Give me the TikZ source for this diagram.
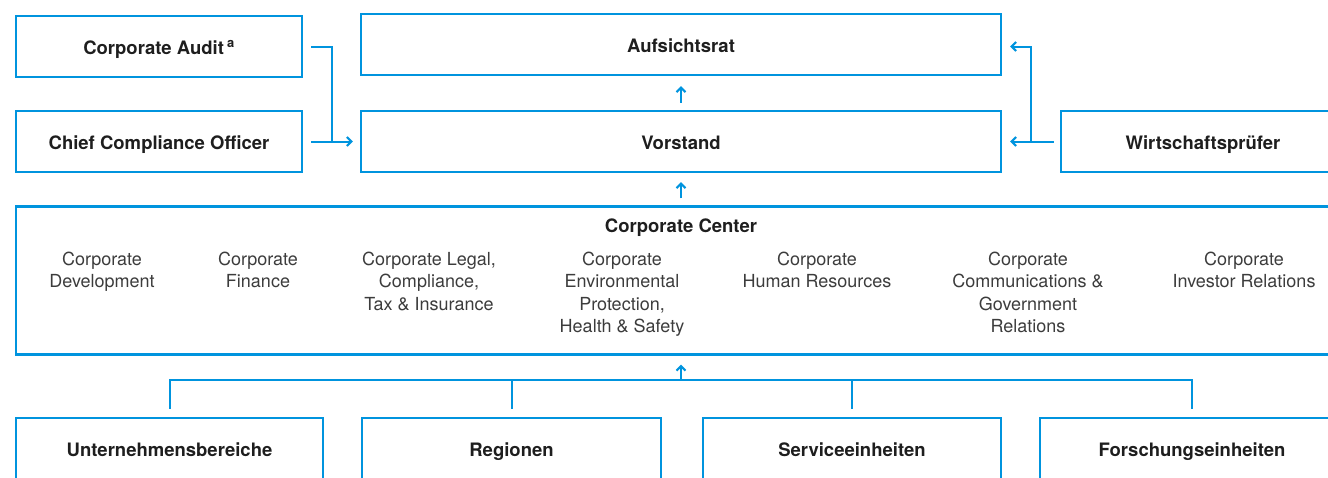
\documentclass[tikz,border=0pt]{standalone}
\usepackage{fontspec}
\setmainfont{TeX Gyre Heros}
\usetikzlibrary{arrows.meta,calc,positioning}
\definecolor{LineBlue}{RGB}{0,148,222}
\definecolor{TextBlack}{RGB}{30,30,30}
\definecolor{TextGray}{RGB}{60,60,60}
\begin{document}
\begin{tikzpicture}[x=1pt,y=-1pt,
  box/.style={draw=LineBlue,line width=2.4pt,inner sep=0pt,minimum height=61pt,text height=17pt,text depth=2pt,font=\fontsize{18.5}{22}\selectfont\bfseries,text=TextBlack},
  link/.style={LineBlue,line width=2pt},
  tip/.style={-{Straight Barb[length=4.5pt,width=9pt]}},
  unit/.style={anchor=north,align=center,inner sep=0pt,font=\fontsize{18}{22.5}\selectfont,text=TextGray}]
\useasboundingbox (0,0) rectangle (1328,477);
% top rows
\node[box,minimum width=286pt] (audit) at (159,46.5){Corporate Audit\,\textsuperscript{a}};
\node[box,minimum width=286pt] (cco) at (159,141.5){Chief Compliance Officer};
\node[box,minimum width=640pt] (aufsicht) at (681,44.5){Aufsichtsrat};
\node[box,minimum width=640pt] (vorstand) at (681,141.5){Vorstand};
\node[box,minimum width=284pt] (wp) at (1203,141.5){Wirtschaftsprüfer};
% corporate center
\node[box,minimum width=1329pt,minimum height=148pt] (cc) at (680.5,280.5){};
\node[font=\fontsize{18.5}{22}\selectfont\bfseries,text=TextBlack] (cctitle) at (681,228){Corporate Center};
\foreach \x/\t [count=\i] in {102/{Corporate\\Development},258/{Corporate\\Finance},429/{Corporate Legal,\\Compliance,\\Tax \& Insurance},622/{Corporate\\Environmental\\Protection,\\Health \& Safety},817/{Corporate\\Human Resources},1028/{Corporate\\Communications \&\\Government\\Relations},1244/{Corporate\\Investor Relations}}{\node[unit] (col\i) at (\x,251.5){\t};}
% units below
\coordinate (bus) at (681,380);
\foreach \n/\x/\w/\t in {ub/169.5/307/Unternehmensbereiche,reg/511.5/299/Regionen,svc/852/298/Serviceeinheiten,fe/1192/304/Forschungseinheiten}{\node[box,minimum width=\w pt] (\n) at (\x,448.5){\t};\draw[link] ([yshift=8pt]\n.north) |- (bus);}
\draw[link,tip,shorten >=9pt] (bus) -- (bus |- cc.south);
% arrows
\draw[link,tip,shorten <=7pt,shorten >=10pt] (vorstand.north) -- (aufsicht.south -| vorstand.north);
\draw[link,tip,shorten <=7pt,shorten >=9pt] (cc.north -| vorstand.south) -- (vorstand.south);
\coordinate (jl) at ($(cco.east)!.5!(vorstand.west)$);
\coordinate (jr) at ($(vorstand.east)!.5!(wp.west)$);
\draw[link] ([xshift=8pt]audit.east) -| (jl);
\draw[link,tip] ([xshift=8pt]cco.east) -- ([xshift=-7pt]vorstand.west);
\draw[link,tip] ([xshift=-6pt]wp.west) -- (jr) |- ([xshift=8pt,yshift=-2pt]aufsicht.east);
\draw[link,tip] (jr) -- ([xshift=8pt]vorstand.east);
\end{tikzpicture}
\end{document}
